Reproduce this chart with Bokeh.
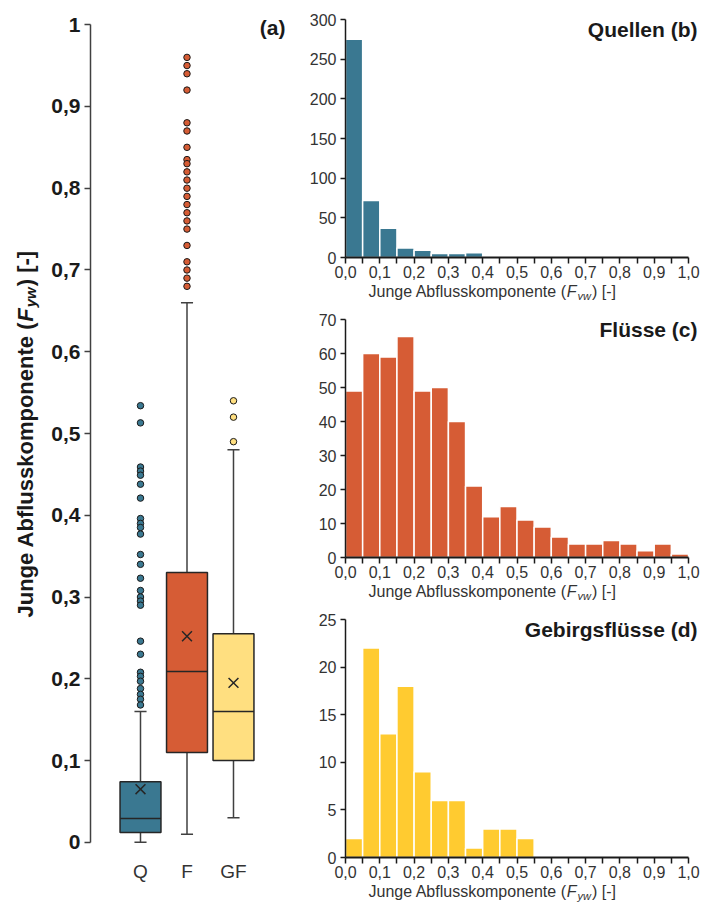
import math
from bokeh.plotting import figure
from bokeh.models import Range1d, FixedTicker, Label, CustomJSTickFormatter
from bokeh.layouts import row, column
from bokeh.embed import file_html
from bokeh.resources import INLINE

FONT = "Liberation Sans"

# ---------------- data ----------------
box_categories = ["Q", "F", "GF"]
box_lower = [0.0, 0.01, 0.03]
box_q1 = [0.012, 0.11, 0.10]
box_median = [0.029, 0.209, 0.16]
box_q3 = [0.074, 0.33, 0.255]
box_upper = [0.16, 0.66, 0.48]
box_mean = [0.065, 0.252, 0.195]

outliers_q = [0.534, 0.513, 0.459, 0.454, 0.449, 0.438, 0.421, 0.396, 0.390, 0.385,
              0.377, 0.352, 0.340, 0.323, 0.308, 0.300, 0.295, 0.290, 0.246, 0.230,
              0.208, 0.203, 0.197, 0.188, 0.181, 0.175, 0.168]
outliers_f = [0.96, 0.95, 0.94, 0.92, 0.88, 0.87, 0.85, 0.835, 0.83, 0.82, 0.81, 0.80,
              0.79, 0.78, 0.77, 0.76, 0.75, 0.73, 0.71, 0.70, 0.69, 0.68]
outliers_gf = [0.54, 0.52, 0.49]

bin_left = [0.00, 0.05, 0.10, 0.15, 0.20, 0.25, 0.30, 0.35, 0.40, 0.45,
            0.50, 0.55, 0.60, 0.65, 0.70, 0.75, 0.80, 0.85, 0.90, 0.95]
bin_right = [0.05, 0.10, 0.15, 0.20, 0.25, 0.30, 0.35, 0.40, 0.45, 0.50,
             0.55, 0.60, 0.65, 0.70, 0.75, 0.80, 0.85, 0.90, 0.95, 1.00]
counts_quellen = [275, 72, 37, 12, 9, 5, 5, 6, 2, 0, 2, 0, 0, 0, 0, 0, 0, 0, 0, 0]
counts_fluesse = [49, 60, 59, 65, 49, 50, 40, 21, 12, 15, 11, 9, 6, 4, 4, 5, 4, 2, 4, 1]
counts_gebirge = [2, 22, 13, 18, 9, 6, 6, 1, 3, 3, 2, 0, 0, 0, 0, 0, 0, 0, 0, 0]

# ---------------- styles ----------------
C_Q = "#3a7891"
C_F = "#d65c35"
C_GF_BOX = "#ffdf80"
C_GF_HIST = "#ffcb30"
box_colors = [C_Q, C_F, C_GF_BOX]
DARK = "#262626"

# Arial / Liberation Sans advance widths (1/1000 em)
W_REG = {' ': 278, '(': 333, ')': 333, '[': 278, ']': 278, '-': 333, 'A': 667, 'F': 611,
         'J': 500, 'b': 556, 'e': 556, 'f': 278, 'g': 556, 'k': 500, 'l': 222, 'm': 833,
         'n': 556, 'o': 556, 'p': 556, 's': 500, 't': 278, 'u': 556, 'w': 722, 'y': 500}
W_BOLD = {' ': 278, '(': 333, ')': 333, '[': 333, ']': 333, '-': 333, 'A': 722, 'F': 611,
          'J': 556, 'b': 611, 'e': 556, 'f': 333, 'g': 611, 'k': 556, 'l': 278, 'm': 889,
          'n': 611, 'o': 611, 'p': 611, 's': 556, 't': 333, 'u': 611, 'w': 778, 'y': 556}


def text_w(s, size, bold):
    tbl = W_BOLD if bold else W_REG
    return sum(tbl.get(c, 556) for c in s) * size / 1000.0


def label_pieces(main_size, sub_size, bold):
    st = "bold" if bold else "normal"
    sti = "bold italic" if bold else "italic"
    return [("Junge Abflusskomponente (", main_size, st, 0),
            ("F", main_size, sti, 0),
            ("yw", sub_size, sti, 1),
            (") [-]", main_size, st, 0)]


def pixel_fig(w, h, left=0, right=0, top=0, bottom=0):
    """Figure with given borders; data units == canvas pixels (y downwards)."""
    f = figure(width=w, height=h, x_range=Range1d(left, w - right),
               y_range=Range1d(h - bottom, top),
               output_backend="svg", toolbar_location=None, x_axis_type=None,
               y_axis_type=None, min_border_left=left, min_border_right=right,
               min_border_top=top, min_border_bottom=bottom)
    f.outline_line_color = None
    f.xgrid.visible = False
    f.ygrid.visible = False
    return f


# ---------------- box plot geometry ----------------
YL_W = 46
BX_LEFT, BX_W = 90 - YL_W, 202
BX_X0, BX_X1 = -0.0753, 4.269
BY_TOP, BY_H = 16, 834
BY_0, BY_1 = -0.01, 1.01
PPX = BX_W / (BX_X1 - BX_X0)
PPY = BY_H / (BY_1 - BY_0)
PB_W = 300 - YL_W

# ---------------- y label strip ----------------
ylab = pixel_fig(YL_W, 902, top=BY_TOP, bottom=902 - BY_TOP - BY_H)
ystart = 617
lx = 25
for txt, size, style, sub in label_pieces(22, 15, True):
    w = text_w(txt, size, True)
    ylab.add_layout(Label(x=lx + (5 if sub else 0), y=ystart, text=txt, text_font=FONT,
                          text_font_size=f"{size}px", text_font_style=style,
                          text_color="#1a1a1a", text_align="left", text_baseline="middle",
                          angle=math.pi / 2))
    ystart -= w + (1 if style.endswith("italic") else 0)


def bx(px):
    return BX_X0 + (px - BX_LEFT) / PPX


def by(py):
    return BY_1 - (py - BY_TOP) / PPY


pb = figure(width=PB_W, height=902, x_range=Range1d(BX_X0, BX_X1), y_range=Range1d(BY_0, BY_1),
            output_backend="svg", toolbar_location=None,
            min_border_left=BX_LEFT, min_border_right=PB_W - BX_LEFT - BX_W,
            min_border_top=BY_TOP, min_border_bottom=902 - BY_TOP - BY_H)
pb.outline_line_color = None
pb.xgrid.visible = False
pb.ygrid.visible = False

xpos = [1, 2, 3]
bw = 0.88
cap = 0.13

pb.segment(x0=xpos, y0=box_q3, x1=xpos, y1=box_upper, line_color="#404040", line_width=1.5)
pb.segment(x0=xpos, y0=box_lower, x1=xpos, y1=box_q1, line_color="#404040", line_width=1.5)
pb.segment(x0=[x - cap for x in xpos], y0=box_upper, x1=[x + cap for x in xpos], y1=box_upper,
           line_color="#404040", line_width=1.5)
pb.segment(x0=[x - cap for x in xpos], y0=box_lower, x1=[x + cap for x in xpos], y1=box_lower,
           line_color="#404040", line_width=1.5)
pb.vbar(x=xpos, width=bw, bottom=box_q1, top=box_q3, fill_color=box_colors,
        line_color=DARK, line_width=1.5)
pb.segment(x0=[x - bw / 2 for x in xpos], y0=box_median, x1=[x + bw / 2 for x in xpos],
           y1=box_median, line_color=DARK, line_width=1.5)
pb.scatter(x=xpos, y=box_mean, marker="x", size=14, line_color=DARK, line_width=1.5)

for i, (vals, col) in enumerate([(outliers_q, C_Q), (outliers_f, C_F), (outliers_gf, C_GF_BOX)]):
    pb.scatter(x=[xpos[i]] * len(vals), y=vals, size=6.5, fill_color=col,
               line_color="#1a1a1a", line_width=1)

pb.yaxis.ticker = FixedTicker(ticks=[0, 0.1, 0.2, 0.3, 0.4, 0.5, 0.6, 0.7, 0.8, 0.9, 1.0])
pb.yaxis.formatter = CustomJSTickFormatter(
    code="if (Math.abs(tick) < 1e-9) return '0'; if (Math.abs(tick-1) < 1e-9) return '1';"
         " return tick.toFixed(1).replace('.', ',');")
pb.yaxis.bounds = (0, 1)
pb.yaxis.axis_line_color = "#404040"
pb.yaxis.axis_line_width = 1.5
pb.yaxis.major_tick_line_color = "#404040"
pb.yaxis.major_tick_line_width = 1.5
pb.yaxis.major_tick_out = 6
pb.yaxis.major_tick_in = 0
pb.yaxis.minor_tick_line_color = None
pb.yaxis.major_label_text_font = FONT
pb.yaxis.major_label_text_font_size = "21px"
pb.yaxis.major_label_text_font_style = "bold"
pb.yaxis.major_label_text_color = "#1a1a1a"
pb.yaxis.major_label_standoff = 4

pb.xaxis.ticker = FixedTicker(ticks=xpos)
pb.xaxis.major_label_overrides = {xpos[i]: box_categories[i] for i in range(3)}
pb.xaxis.axis_line_color = None
pb.xaxis.major_tick_line_color = None
pb.xaxis.minor_tick_line_color = None
pb.xaxis.major_label_text_font = FONT
pb.xaxis.major_label_text_font_size = "19px"
pb.xaxis.major_label_text_color = "#333333"
pb.xaxis.major_label_standoff = 4

pb.add_layout(Label(x=bx(285 - YL_W), y=by(27), text="(a)", text_font=FONT,
                    text_font_size="21px", text_font_style="bold", text_color="#1a1a1a",
                    text_align="right", text_baseline="middle"))


# ---------------- histograms ----------------
HX_LEFT, HX_W = 45, 343
HY_TOP, HY_H = 19, 238
H_W = 402
X_END = 1 + (H_W - HX_LEFT - HX_W) / HX_W


def make_hist(counts, ymax, yticks, color, title, height):
    p = figure(width=H_W, height=height, x_range=Range1d(0, X_END), y_range=Range1d(0, ymax),
               output_backend="svg", toolbar_location=None,
               min_border_left=HX_LEFT, min_border_right=0,
               min_border_top=HY_TOP, min_border_bottom=height - HY_TOP - HY_H)
    p.outline_line_color = None
    p.xgrid.visible = False
    p.ygrid.visible = False
    p.quad(left=bin_left, right=bin_right, bottom=0, top=counts, fill_color=color,
           line_color="white", line_width=1.5)

    def hx(px):
        return (px - HX_LEFT) / HX_W

    def hy(py):
        return ymax - (py - HY_TOP) * ymax / HY_H

    p.xaxis.ticker = FixedTicker(ticks=[0.0, 0.1, 0.2, 0.3, 0.4, 0.5, 0.6, 0.7, 0.8, 0.9, 1.0],
                                 minor_ticks=[0.05, 0.15, 0.25, 0.35, 0.45, 0.55, 0.65, 0.75,
                                              0.85, 0.95])
    p.xaxis.formatter = CustomJSTickFormatter(code="return tick.toFixed(1).replace('.', ',');")
    p.xaxis.bounds = (0, 1)
    p.xaxis.axis_line_color = "#1a1a1a"
    p.xaxis.axis_line_width = 2
    p.xaxis.major_tick_line_color = "#1a1a1a"
    p.xaxis.major_tick_line_width = 1.5
    p.xaxis.minor_tick_line_color = "#1a1a1a"
    p.xaxis.minor_tick_line_width = 1.5
    p.xaxis.major_tick_out = 6
    p.xaxis.major_tick_in = 0
    p.xaxis.minor_tick_out = 6
    p.xaxis.minor_tick_in = 0
    p.xaxis.major_label_text_font = FONT
    p.xaxis.major_label_text_font_size = "16px"
    p.xaxis.major_label_text_color = "#333333"
    p.xaxis.major_label_standoff = 2

    p.yaxis.ticker = FixedTicker(ticks=yticks)
    p.yaxis.axis_line_color = "#1a1a1a"
    p.yaxis.axis_line_width = 1.5
    p.yaxis.major_tick_line_color = "#1a1a1a"
    p.yaxis.major_tick_line_width = 1.5
    p.yaxis.major_tick_out = 5
    p.yaxis.major_tick_in = 0
    p.yaxis.minor_tick_line_color = None
    p.yaxis.major_label_text_font = FONT
    p.yaxis.major_label_text_font_size = "16px"
    p.yaxis.major_label_text_color = "#333333"
    p.yaxis.major_label_standoff = 4

    p.add_layout(Label(x=hx(397), y=hy(29), text=title, text_font=FONT, text_font_size="21px",
                       text_font_style="bold", text_color="#1a1a1a", text_align="right",
                       text_baseline="middle"))
    return p


def make_xlabel_strip(height):
    s = pixel_fig(H_W, height, left=HX_LEFT, right=0)
    xs = 68
    for txt, size, style, sub in label_pieces(16, 11, False):
        w = text_w(txt, size, False)
        s.add_layout(Label(x=xs, y=11 + (4 if sub else 0), text=txt, text_font=FONT,
                           text_font_size=f"{size}px", text_font_style=style,
                           text_color="#333333", text_align="left", text_baseline="middle"))
        xs += w + (1 if style.endswith("italic") else 0)
    return s


h1 = make_hist(counts_quellen, 300, [0, 50, 100, 150, 200, 250, 300], C_Q, "Quellen (b)", 280)
h2 = make_hist(counts_fluesse, 70, [0, 10, 20, 30, 40, 50, 60, 70], C_F, "Flüsse (c)", 280)
h3 = make_hist(counts_gebirge, 25, [0, 5, 10, 15, 20, 25], C_GF_HIST, "Gebirgsflüsse (d)", 280)
s1 = make_xlabel_strip(20)
s2 = make_xlabel_strip(20)
s3 = make_xlabel_strip(22)

layout = row(ylab, pb, column(h1, s1, h2, s2, h3, s3, spacing=0), spacing=0)

with open("out.html", "w") as f:
    f.write(file_html(layout, INLINE))
